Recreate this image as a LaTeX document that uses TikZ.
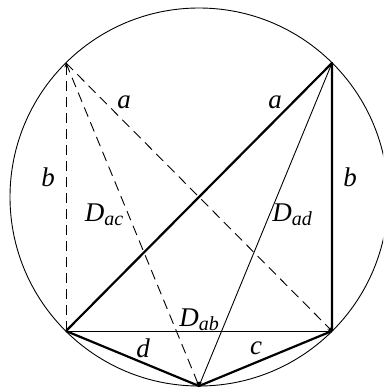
\documentclass[tikz,border=0pt]{standalone}
\usepackage{fontspec}
\setmainfont{Liberation Serif}
\usetikzlibrary{arrows.meta}
\newcommand{\sbs}[1]{\raisebox{-4pt}{\fontsize{20}{21}\selectfont #1}}
\tikzset{
  thickline/.style={line width=2.2pt},
  thinline/.style={line width=0.9pt},
  dashline/.style={line width=0.9pt, dash pattern=on 10pt off 6pt},
  tip/.style={-{Stealth[length=4.5pt,width=3pt]}},
  lab/.style={anchor=base, inner sep=0pt, font=\fontsize{27}{30}\selectfont\itshape},
}
\begin{document}
\begin{tikzpicture}[x=1pt,y=-1pt]
\useasboundingbox (0,0) rectangle (383,388);
\clip (0,0) rectangle (383,388);
\coordinate (O) at (199,197);
\coordinate (P) at (66,63);
\coordinate (B) at (332,63);
\coordinate (A) at (66,331);
\coordinate (C) at (332,331);
\coordinate (D) at (199,386);
\draw[thinline] (O) circle[radius=189pt];
% dashed
\draw[dashline,tip] (A) -- (P);
\draw[dashline,tip] (P) -- (D);
\draw[dashline,tip] (P) -- (C);
% thin
\draw[thinline,tip] (A) -- (C);
\draw[thinline,tip] (B) -- (D);
% thick
\draw[thickline,line join=round] (A) -- (B) -- (C);
\draw[thickline,line join=round] (A) -- (D) -- (C);
% labels
\node[lab] (la1) at (124,108) {a};
\node[lab] (la2) at (275,108) {a};
\node[lab] (lb1) at (48,186) {b};
\node[lab] (lb2) at (350,186) {b};
\node[lab] (ldac) at (104,221) {D\sbs{ac}};
\node[lab] (ldad) at (292,221) {D\sbs{ad}};
\node[lab] (ldab) at (199,326) {D\sbs{ab}};
\node[lab] (ld) at (143,357) {d};
\node[lab] (lc) at (256,354) {c};
\end{tikzpicture}
\end{document}
